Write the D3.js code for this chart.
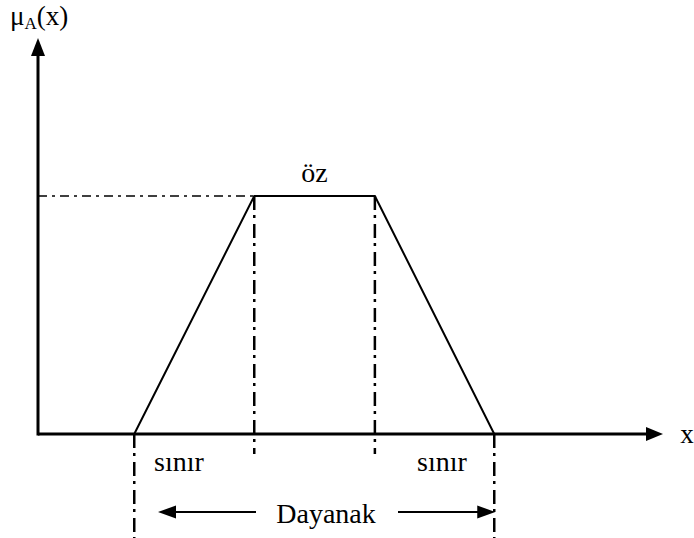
<!DOCTYPE html>
<html>
<head>
<meta charset="utf-8">
<script src="https://cdn.jsdelivr.net/npm/d3@7"></script>
<style>
  body { margin: 0; background: #fff; }
</style>
</head>
<body>
<div id="chart"></div>
<script>
// trapezoid membership function: x positions and membership values
var xPoints = [1.54, 3.46, 5.39, 7.30];
var muValues = [0, 1, 1, 0];
var coreLabel = "öz";
var boundaryLabels = ["sınır", "sınır"];
var supportLabel = "Dayanak";

var width = 694, height = 538;
var serif = "'Liberation Serif', 'Times New Roman', Times, 'DejaVu Serif', serif";

var svg = d3.select("#chart")
    .append("svg")
    .attr("width", width)
    .attr("height", height)
    .attr("font-family", serif);

// scales
var x = d3.scaleLinear().domain([0, 10]).range([38, 663]);
var y = d3.scaleLinear().domain([0, 1]).range([434, 196]);

function arrowHead(tipX, tipY, dir, len, half) {
    var pts;
    if (dir === "up") pts = [[tipX, tipY], [tipX - half, tipY + len], [tipX + half, tipY + len]];
    else if (dir === "right") pts = [[tipX, tipY], [tipX - len, tipY - half], [tipX - len, tipY + half]];
    else pts = [[tipX, tipY], [tipX + len, tipY - half], [tipX + len, tipY + half]];
    svg.append("polygon")
        .attr("points", pts.map(function (p) { return p.join(","); }).join(" "))
        .attr("fill", "#000");
}

// dash-dot horizontal guide at mu = 1
svg.append("line")
    .attr("x1", x(0)).attr("x2", x(xPoints[1]))
    .attr("y1", y(1)).attr("y2", y(1))
    .attr("stroke", "#000")
    .attr("stroke-width", 1.5)
    .attr("stroke-dasharray", "9,5,3,5");

// vertical dash-dot guides
var guides = [
    {v: xPoints[0], y1: y(0), y2: 538},
    {v: xPoints[1], y1: y(1), y2: 454},
    {v: xPoints[2], y1: y(1), y2: 454},
    {v: xPoints[3], y1: y(0), y2: 538}
];
svg.selectAll(".guide")
    .data(guides)
    .enter().append("line")
    .attr("class", "guide")
    .attr("x1", function (d) { return x(d.v); })
    .attr("x2", function (d) { return x(d.v); })
    .attr("y1", function (d) { return d.y1; })
    .attr("y2", function (d) { return d.y2; })
    .attr("stroke", "#000")
    .attr("stroke-width", 2.5)
    .attr("stroke-dasharray", "14,5,3,6");

// trapezoid
var line = d3.line()
    .x(function (d) { return x(d[0]); })
    .y(function (d) { return y(d[1]); });
svg.append("path")
    .datum(d3.zip(xPoints, muValues))
    .attr("d", line)
    .attr("fill", "none")
    .attr("stroke", "#000")
    .attr("stroke-width", 2);

// axes
svg.append("line")
    .attr("x1", x(0)).attr("x2", 650)
    .attr("y1", y(0)).attr("y2", y(0))
    .attr("stroke", "#000").attr("stroke-width", 3);
arrowHead(663, y(0), "right", 17, 7);

svg.append("line")
    .attr("x1", x(0)).attr("x2", x(0))
    .attr("y1", y(0) + 1.5).attr("y2", 52)
    .attr("stroke", "#000").attr("stroke-width", 3);
arrowHead(x(0), 38, "up", 18, 7);

// support arrows
svg.append("line")
    .attr("x1", 170).attr("x2", 256)
    .attr("y1", 512).attr("y2", 512)
    .attr("stroke", "#000").attr("stroke-width", 2);
arrowHead(158, 512, "left", 18, 6.5);
svg.append("line")
    .attr("x1", 398).attr("x2", 482)
    .attr("y1", 512).attr("y2", 512)
    .attr("stroke", "#000").attr("stroke-width", 2);
arrowHead(x(xPoints[3]) + 1, 512, "right", 18, 6.5);

// labels
var mu = svg.append("text")
    .attr("x", 10).attr("y", 25)
    .attr("font-size", 27);
mu.append("tspan").text("μ");
mu.append("tspan").text("A").attr("dy", 4).attr("font-size", 17);
mu.append("tspan").text("(x)").attr("dy", -4);

svg.append("text")
    .attr("x", 687).attr("y", 443)
    .attr("text-anchor", "middle")
    .attr("font-size", 27)
    .text("x");

svg.append("text")
    .attr("x", (x(xPoints[1]) + x(xPoints[2])) / 2)
    .attr("y", 182)
    .attr("text-anchor", "middle")
    .attr("font-size", 28)
    .text(coreLabel);

svg.append("text")
    .attr("x", 179).attr("y", 471)
    .attr("text-anchor", "middle")
    .attr("font-size", 28)
    .text(boundaryLabels[0]);
svg.append("text")
    .attr("x", 442).attr("y", 471)
    .attr("text-anchor", "middle")
    .attr("font-size", 28)
    .text(boundaryLabels[1]);

svg.append("text")
    .attr("x", 326).attr("y", 523)
    .attr("text-anchor", "middle")
    .attr("font-size", 28)
    .text(supportLabel);
</script>
</body>
</html>
